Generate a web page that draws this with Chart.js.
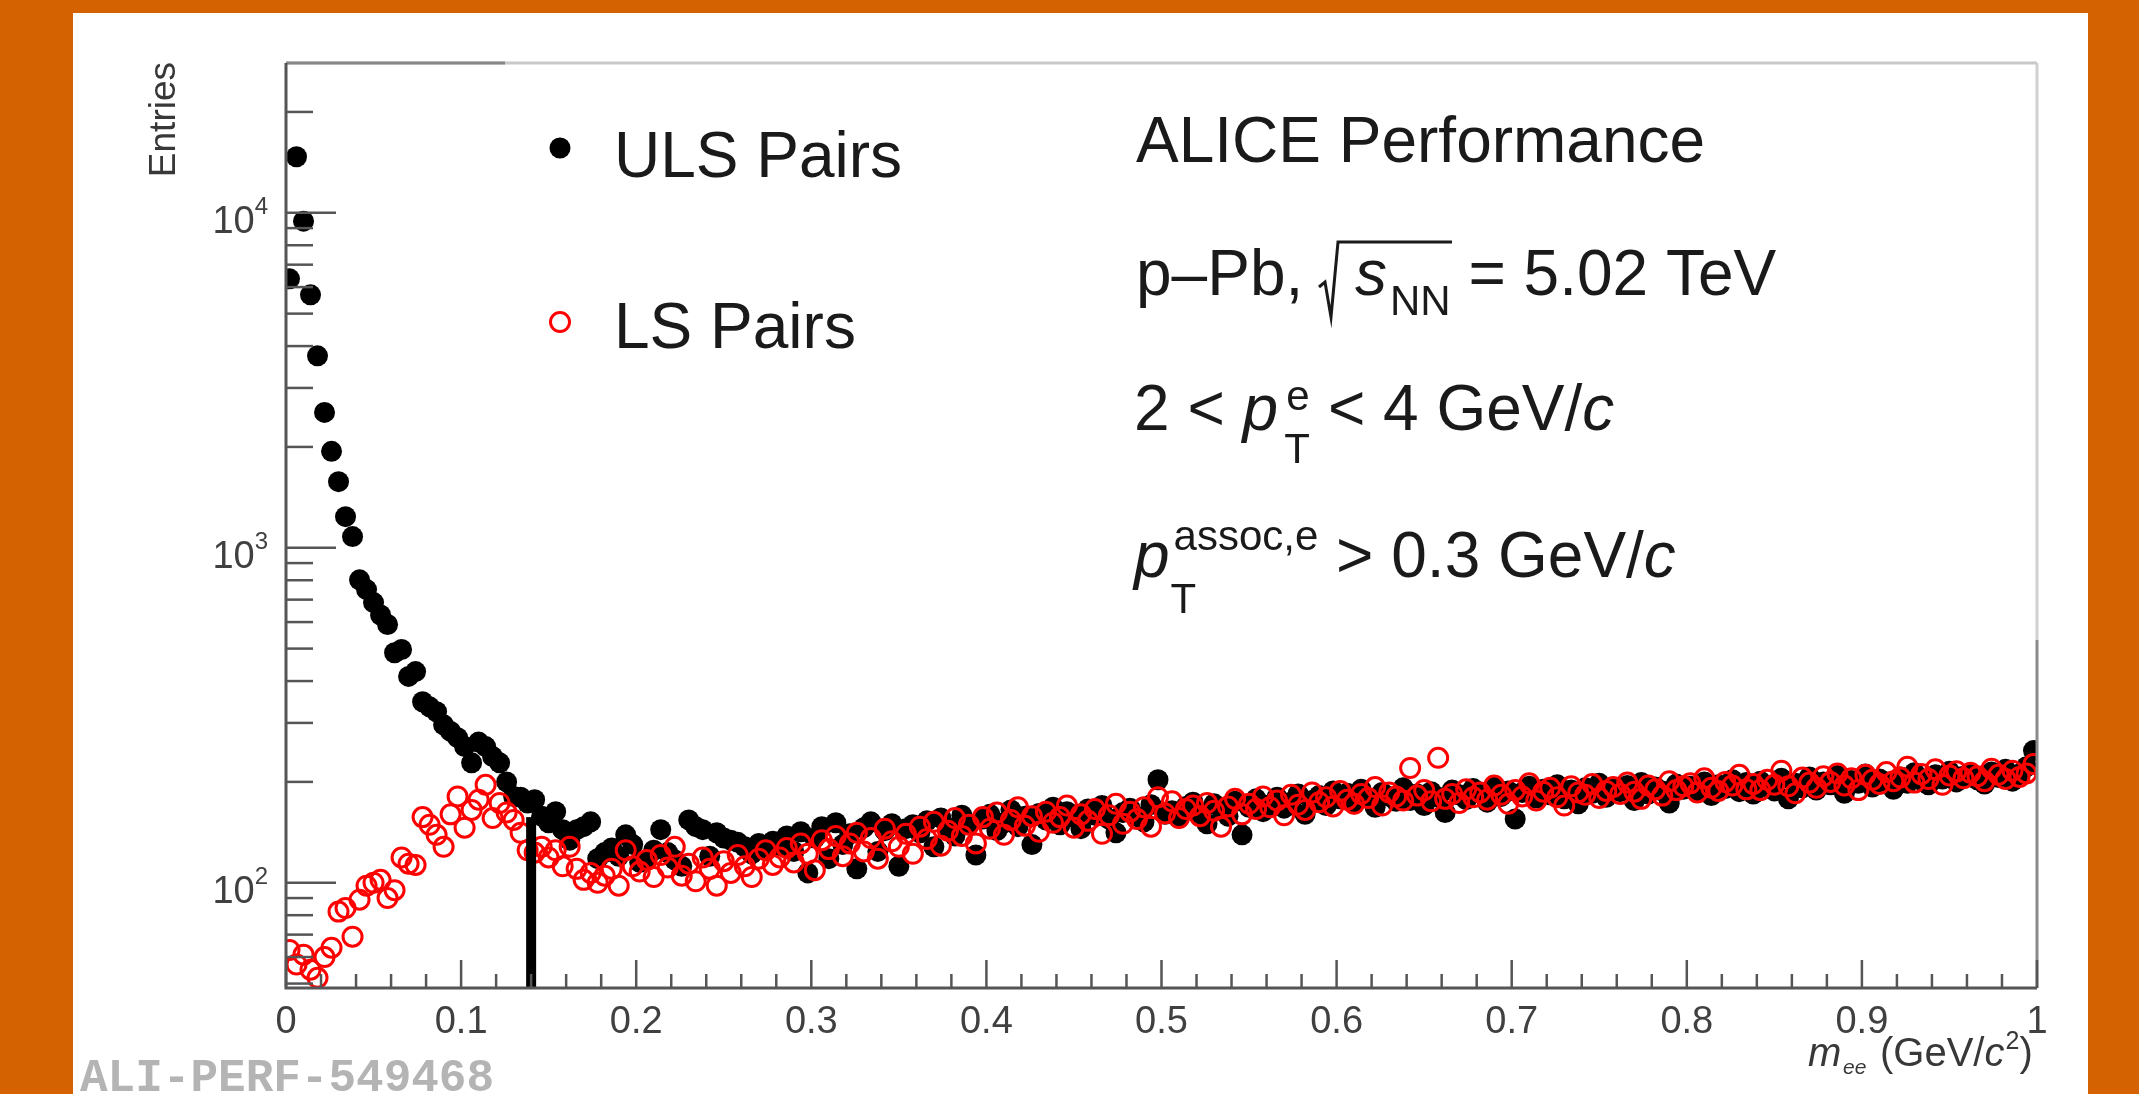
<!DOCTYPE html>
<html>
<head>
<meta charset="utf-8">
<script src="https://cdn.jsdelivr.net/npm/chart.js@4.4.1/dist/chart.umd.min.js"></script>
<style>
  html, body { margin: 0; padding: 0; background: #d46200; overflow: hidden; }
  canvas { display: block; }
</style>
</head>
<body>
<canvas id="grafico" width="2139" height="1094"></canvas>
<script>
// histogram binning (GeV/c^2)
const binWidth = 0.004;

// ULS pairs, entries per bin
const ulsCounts = [
  6350, 14700, 9440, 5690, 3740, 2535, 1940, 1575, 1238, 1080,
  802, 750, 686, 630, 590, 486, 497, 413, 427, 347,
  335, 324, 296, 283, 271, 255, 228, 263, 255, 238,
  228, 200, 181, 180, 173, 177, 158, 151, 163, 144,
  134, 144, 147, 152, 118, 123, 127, 120, 139, 130,
  115, 117, 125, 144, 123, 117, 112, 154, 147, 144,
  120, 141, 136, 134, 132, 128, 122, 131, 126, 133,
  129, 138, 124, 142, 107, 136, 147, 118, 151, 130,
  140, 110, 146, 152, 124, 143, 150, 112, 145, 149,
  141, 153, 128, 156, 146, 138, 159, 150, 121, 155,
  160, 143, 151, 165, 147, 158, 130, 161, 154, 168,
  149, 163, 157, 145, 166, 159, 170, 155, 141, 162,
  167, 158, 152, 171, 203, 160, 164, 156, 169, 174,
  161, 150, 172, 166, 158, 175, 139, 168, 178, 163,
  171, 180, 167, 174, 184, 160, 176, 182, 170, 188,
  178, 185, 172, 190, 179, 168, 186, 181, 175, 192,
  176, 184, 170, 187, 180, 162, 189, 183, 177, 191,
  185, 174, 193, 181, 188, 155, 186, 194, 179, 190,
  183, 196, 178, 189, 172, 192, 185, 198, 180, 191,
  187, 195, 176, 199, 184, 193, 188, 173, 197, 190,
  194, 186, 200, 182, 196, 191, 203, 187, 199, 184,
  201, 193, 188, 205, 178, 198, 192, 207, 189, 200,
  196, 209, 185, 202, 198, 211, 193, 204, 200, 190,
  207, 198, 213, 202, 196, 210, 204, 215, 200, 208,
  212, 203, 197, 214, 206, 218, 201, 211, 222, 248
];

// LS pairs, entries per bin
const lsCounts = [
  63, 57, 61, 55, 52, 60, 64, 82, 84, 69,
  89, 98, 100, 102, 90, 95, 119, 114, 113, 157,
  149, 139, 128, 160, 181, 146, 165, 177, 196, 156,
  173, 162, 154, 141, 125, 123, 128, 119, 125, 112,
  128, 110, 102, 107, 100, 105, 110, 98, 125, 112,
  108, 117, 104, 121, 111, 128, 105, 114, 101, 119,
  110, 98, 116, 107, 121, 112, 104, 118, 125, 113,
  119, 127, 115, 131, 122, 109, 134, 126, 138, 120,
  131, 141, 124, 136, 118, 145, 133, 128, 140, 122,
  147, 135, 152, 129, 143, 156, 138, 149, 131, 157,
  145, 162, 139, 154, 168, 148, 158, 142, 163, 151,
  157, 170, 146, 160, 153, 166, 140, 159, 172, 150,
  163, 155, 168, 147, 180, 161, 175, 156, 166, 170,
  158, 173, 164, 147, 169, 178, 160, 172, 166, 181,
  168, 176, 159, 183, 171, 165, 186, 174, 180, 169,
  188, 177, 172, 184, 179, 193, 170, 186, 181, 176,
  220, 182, 189, 175, 236, 178, 184, 173, 190, 180,
  186, 177, 195, 183, 172, 189, 181, 198, 176, 187,
  192, 180, 170, 194, 186, 183, 197, 179, 188, 193,
  184, 199, 187, 178, 195, 190, 182, 201, 189, 194,
  198, 186, 205, 192, 188, 200, 195, 210, 190, 197,
  189, 203, 196, 216, 194, 185, 206, 199, 192, 208,
  200, 212, 195, 205, 189, 210, 203, 197, 214, 201,
  206, 222, 199, 211, 204, 218, 196, 209, 215, 205,
  213, 208, 201, 219, 210, 204, 216, 207, 212, 226
];

const massBins = ulsCounts.map((_, i) => +((i + 0.5) * binWidth).toFixed(4));

const yDecades = [100, 1000, 10000];
const yExponents = ["2", "3", "4"];
const legendLabels = ["ULS Pairs", "LS Pairs"];

// vertical line at the pion mass cut
const cutMass = 0.14;
const cutTop = 157;

const SANS = '"Liberation Sans", Arial, Helvetica, sans-serif';
const F = (size, style) => `${style || ""} ${size}px ${SANS}`;

function drawRuns(ctx, x, y, parts) {
  for (const p of parts) {
    ctx.font = p.font;
    ctx.fillText(p.t, x, y + (p.dy || 0));
    x += ctx.measureText(p.t).width;
  }
  return x;
}

const rootStyle = {
  id: "rootStyle",
  beforeDraw(chart) {
    const ctx = chart.ctx;
    ctx.save();
    ctx.fillStyle = "#d46200";
    ctx.fillRect(0, 0, chart.width, chart.height);
    ctx.fillStyle = "#ffffff";
    ctx.fillRect(73, 13, 2015, 1081);
    ctx.restore();
  },
  afterDatasetsDraw(chart) {
    const { ctx, scales: { x, y } } = chart;
    const px = x.getPixelForValue(cutMass);
    const top = y.getPixelForValue(cutTop);
    ctx.save();
    ctx.fillStyle = "#000";
    ctx.fillRect(px - 5, top, 10, chart.chartArea.bottom - top);
    ctx.restore();
  },
  afterDraw(chart) {
    const { ctx, chartArea: a, scales: { x, y } } = chart;
    ctx.save();

    // frame
    ctx.lineWidth = 3;
    ctx.strokeStyle = "#c8c8c8";
    ctx.beginPath(); ctx.moveTo(a.left, a.top); ctx.lineTo(a.right, a.top); ctx.stroke();
    ctx.strokeStyle = "#888";
    ctx.beginPath(); ctx.moveTo(a.left, a.top); ctx.lineTo(505, a.top); ctx.stroke();
    ctx.strokeStyle = "#d0d0d0";
    ctx.beginPath(); ctx.moveTo(a.right, a.top); ctx.lineTo(a.right, 640); ctx.stroke();
    ctx.strokeStyle = "#8a8a8a";
    ctx.beginPath(); ctx.moveTo(a.right, 640); ctx.lineTo(a.right, a.bottom); ctx.stroke();
    ctx.strokeStyle = "#555";
    ctx.beginPath();
    ctx.moveTo(a.left, a.top); ctx.lineTo(a.left, a.bottom); ctx.lineTo(a.right, a.bottom);
    ctx.stroke();

    // x ticks (inward)
    ctx.lineWidth = 2.5;
    ctx.strokeStyle = "#555";
    for (let i = 0; i <= 50; i++) {
      const px = x.getPixelForValue(i * 0.02);
      const len = i % 5 === 0 ? 28 : 14;
      ctx.beginPath(); ctx.moveTo(px, a.bottom); ctx.lineTo(px, a.bottom - len); ctx.stroke();
    }
    // y ticks (inward, log)
    for (const d of [10, 100, 1000, 10000]) {
      for (let m = 1; m <= 9; m++) {
        const v = m * d;
        if (v < y.min || v > y.max) continue;
        const py = y.getPixelForValue(v);
        const len = m === 1 ? 50 : 27;
        ctx.beginPath(); ctx.moveTo(a.left, py); ctx.lineTo(a.left + len, py); ctx.stroke();
      }
    }

    // y tick labels 10^n
    ctx.fillStyle = "#404040";
    ctx.textBaseline = "alphabetic";
    yDecades.forEach((v, i) => {
      const py = y.getPixelForValue(v);
      ctx.font = F(24);
      ctx.textAlign = "right";
      ctx.fillText(yExponents[i], 268, py + 1);
      const ew = ctx.measureText(yExponents[i]).width;
      ctx.font = F(38);
      ctx.fillText("10", 268 - ew, py + 20);
    });
    ctx.textAlign = "left";

    // axis titles
    ctx.save();
    ctx.translate(175, 62);
    ctx.rotate(-Math.PI / 2);
    ctx.textAlign = "right";
    ctx.font = F(37);
    ctx.fillStyle = "#383838";
    ctx.fillText("Entries", 0, 0);
    ctx.restore();

    ctx.fillStyle = "#383838";
    ctx.font = F(40, "italic");
    ctx.fillText("m", 1808, 1066);
    ctx.font = F(21, "italic");
    ctx.fillText("ee", 1843, 1074);
    let tx = drawRuns(ctx, 1880, 1066, [{ t: "(GeV/", font: F(40) }, { t: "c", font: F(40, "italic") }]);
    tx = drawRuns(ctx, tx + 1, 1066, [{ t: "2", font: F(25), dy: -17 }]);
    drawRuns(ctx, tx, 1066, [{ t: ")", font: F(40) }]);

    // legend
    ctx.fillStyle = "#000";
    ctx.beginPath(); ctx.arc(560, 148, 10.5, 0, Math.PI * 2); ctx.fill();
    ctx.strokeStyle = "#ff0000"; ctx.lineWidth = 3;
    ctx.beginPath(); ctx.arc(560, 322, 9.5, 0, Math.PI * 2); ctx.stroke();
    ctx.fillStyle = "#1a1a1a";
    ctx.font = F(64);
    ctx.fillText(legendLabels[0], 614, 177);
    ctx.fillText(legendLabels[1], 614, 348);

    // labels block
    ctx.fillText("ALICE Performance", 1136, 162);

    let lx = drawRuns(ctx, 1136, 295, [{ t: "p\u2013Pb, ", font: F(64) }]);
    ctx.strokeStyle = "#1a1a1a"; ctx.lineWidth = 3;
    ctx.beginPath();
    ctx.moveTo(1319, 287); ctx.lineTo(1325, 282); ctx.lineTo(1331, 317);
    ctx.lineTo(1338, 242); ctx.lineTo(1452, 242);
    ctx.stroke();
    lx = drawRuns(ctx, 1355, 295, [{ t: "s", font: F(64, "italic") }]);
    lx = drawRuns(ctx, lx + 3, 315, [{ t: "NN", font: F(42) }]);
    drawRuns(ctx, lx, 295, [{ t: " = 5.02 TeV", font: F(64) }]);

    lx = drawRuns(ctx, 1134, 430, [{ t: "2 < ", font: F(64) }, { t: "p", font: F(64, "italic") }]);
    ctx.font = F(42);
    ctx.fillText("e", lx + 8, 410);
    ctx.fillText("T", lx + 6, 463);
    drawRuns(ctx, lx + 32, 430, [{ t: " < 4 GeV/", font: F(64) }, { t: "c", font: F(64, "italic") }]);

    lx = drawRuns(ctx, 1134, 577, [{ t: "p", font: F(64, "italic") }]);
    ctx.font = F(42);
    ctx.fillText("T", lx + 1, 613);
    const sx = drawRuns(ctx, lx + 4, 550, [{ t: "assoc,e", font: F(42) }]);
    drawRuns(ctx, sx, 577, [{ t: " > 0.3 GeV/", font: F(64) }, { t: "c", font: F(64, "italic") }]);

    // figure id
    ctx.fillStyle = "#b4b4b4";
    ctx.font = 'bold 46px "Liberation Mono", "DejaVu Sans Mono", monospace';
    ctx.fillText("ALI-PERF-549468", 80, 1091);

    ctx.restore();
  }
};

const ctx = document.getElementById("grafico").getContext("2d");

const chart = new Chart(ctx, {
  type: "scatter",
  data: {
    datasets: [
      {
        label: legendLabels[1],
        data: massBins.map((m, i) => ({ x: m, y: lsCounts[i] })),
        pointStyle: "circle",
        pointRadius: 9.5,
        pointBackgroundColor: "rgba(0,0,0,0)",
        pointBorderColor: "#ff0000",
        pointBorderWidth: 3
      },
      {
        label: legendLabels[0],
        data: massBins.map((m, i) => ({ x: m, y: ulsCounts[i] })),
        pointStyle: "circle",
        pointRadius: 10.5,
        pointBackgroundColor: "#000000",
        pointBorderColor: "#000000",
        pointBorderWidth: 0
      }
    ]
  },
  options: {
    responsive: false,
    animation: false,
    devicePixelRatio: 1,
    events: [],
    layout: { padding: { left: 0, top: 63, right: 102, bottom: 0 } },
    plugins: {
      legend: { display: false },
      tooltip: { enabled: false }
    },
    scales: {
      x: {
        type: "linear",
        min: 0,
        max: 1,
        grid: { display: false },
        border: { display: false },
        ticks: {
          stepSize: 0.1,
          maxRotation: 0,
          autoSkip: false,
          padding: 4,
          color: "#404040",
          font: { family: SANS, size: 38 },
          callback: v => String(Number(v.toFixed(1)))
        },
        afterFit: s => { s.height = 106; }
      },
      y: {
        type: "logarithmic",
        min: 48.5,
        max: 28000,
        grid: { display: false },
        border: { display: false },
        ticks: { display: false },
        afterFit: s => { s.width = 286; }
      }
    }
  },
  plugins: [rootStyle]
});
</script>
</body>
</html>
